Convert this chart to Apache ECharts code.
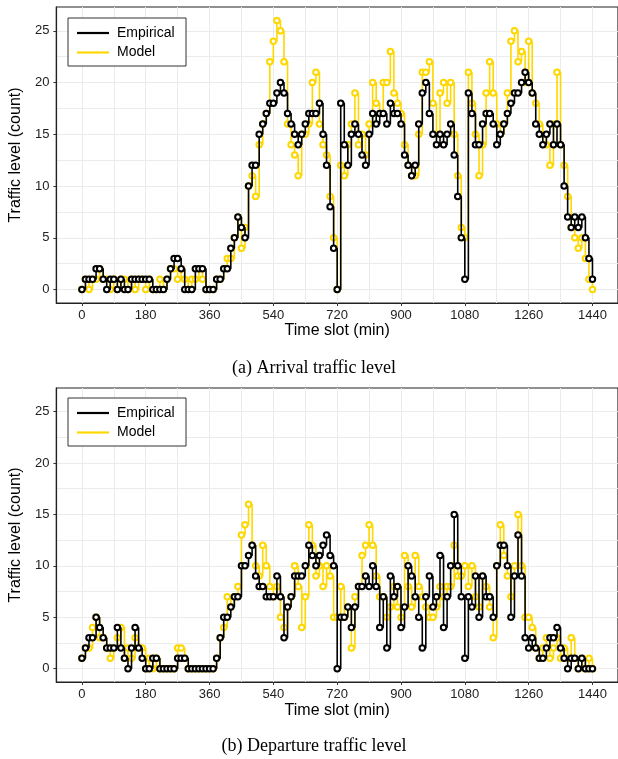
<!DOCTYPE html>
<html>
<head>
<meta charset="utf-8">
<style>
  html, body { margin: 0; padding: 0; background: #fff; }
  #chart { width: 618px; height: 759px; }
</style>
<script src="https://cdn.jsdelivr.net/npm/echarts@6.0.0/dist/echarts.min.js"></script>
</head>
<body>
<div id="chart"></div>
<script>
// Time slots (min)
const timeSlots = [0,10,20,30,40,50,60,70,80,90,100,110,120,130,140,150,160,170,180,190,200,210,220,230,240,250,260,270,280,290,300,310,320,330,340,350,360,370,380,390,400,410,420,430,440,450,460,470,480,490,500,510,520,530,540,550,560,570,580,590,600,610,620,630,640,650,660,670,680,690,700,710,720,730,740,750,760,770,780,790,800,810,820,830,840,850,860,870,880,890,900,910,920,930,940,950,960,970,980,990,1000,1010,1020,1030,1040,1050,1060,1070,1080,1090,1100,1110,1120,1130,1140,1150,1160,1170,1180,1190,1200,1210,1220,1230,1240,1250,1260,1270,1280,1290,1300,1310,1320,1330,1340,1350,1360,1370,1380,1390,1400,1410,1420,1430,1440];

// (a) Arrival traffic level
const arrivalEmpirical = [0,1,1,1,2,2,1,0,1,1,0,1,0,0,1,1,1,1,1,1,0,0,0,0,1,2,3,3,2,0,0,0,2,2,2,0,0,0,1,1,2,2,4,5,7,6,5,10,12,12,15,16,17,18,18,19,20,19,17,16,15,14,15,16,17,17,17,18,15,12,8,4,0,18,14,12,15,16,15,13,12,15,17,16,17,17,16,18,17,17,16,13,12,11,12,16,19,20,17,15,14,15,14,15,16,13,9,5,1,19,17,14,14,16,17,17,16,14,15,16,17,18,19,19,20,21,20,19,16,15,14,15,16,14,16,14,10,7,6,7,6,7,5,3,1];
const arrivalModel = [0,1,0,1,1,2,1,1,0,1,0,1,1,0,1,0,1,1,0,1,0,0,1,0,1,2,2,1,2,1,0,1,1,2,1,0,0,0,1,1,2,3,3,5,7,4,6,10,11,9,14,16,17,22,24,26,25,22,16,14,13,11,15,15,16,20,21,16,14,13,9,5,0,12,11,14,16,19,14,15,13,16,20,18,17,20,20,23,19,18,17,14,12,11,11,15,21,21,22,18,15,19,20,18,20,15,11,6,5,21,18,15,11,14,19,22,19,16,15,16,19,24,25,22,23,20,24,19,18,16,15,14,12,16,21,14,12,9,6,5,4,5,3,1,0];

// (b) Departure traffic level
const departureEmpirical = [1,2,3,3,5,4,3,2,2,2,4,2,1,0,2,4,2,1,0,0,1,1,0,0,0,0,0,1,1,1,0,0,0,0,0,0,0,0,1,3,5,5,6,7,7,10,10,11,12,9,8,8,7,7,7,9,7,3,6,7,9,9,9,10,12,11,10,11,12,13,11,10,0,5,5,6,4,6,8,8,9,8,10,8,4,7,2,9,7,8,4,6,10,9,7,5,2,7,9,6,7,11,4,7,10,15,10,7,1,7,6,9,5,9,7,7,5,10,12,12,10,5,9,13,9,3,2,3,2,1,1,2,3,3,4,2,1,0,1,1,0,1,0,0,0];
const departureModel = [1,2,2,4,5,3,3,2,1,2,3,4,1,2,1,3,2,2,0,1,0,1,0,0,0,0,0,2,2,1,0,0,0,0,0,0,0,0,1,3,4,7,6,7,8,13,14,16,12,10,9,12,10,8,7,8,5,4,6,7,10,8,4,7,14,12,9,10,8,10,9,5,5,8,5,6,2,7,8,11,12,14,12,9,7,7,5,6,8,6,5,11,8,6,11,8,7,6,5,5,6,8,7,8,8,12,9,9,10,8,10,7,6,9,8,6,3,10,14,11,9,7,10,15,10,5,5,4,2,1,2,3,1,2,3,1,2,1,3,1,0,1,0,1,0];

const xTicks = [0,180,360,540,720,900,1080,1260,1440];
const xGridVals = [0,90,180,270,360,450,540,630,720,810,900,990,1080,1170,1260,1350,1440];
const yTicks = [0,5,10,15,20,25];
const yGridVals = [0,2.5,5,7.5,10,12.5,15,17.5,20,22.5,25];
const seriesNames = ['Empirical','Model'];
const captions = ['(a) Arrival traffic level','(b) Departure traffic level'];
const xTitle = 'Time slot (min)';
const yTitle = 'Traffic level (count)';

const SANS = 'Liberation Sans, Arial, Helvetica, sans-serif';
const SERIF = 'Liberation Serif, Times New Roman, serif';
const GOLD = '#FFD700';

function pairs(vals) { return timeSlots.map((t, i) => [t, vals[i]]); }
const plainNum = v => String(v);

const grids = [
  { left: 50, top: 7, width: 571, height: 296 },
  { left: 50, top: 388, width: 571, height: 294 }
];
const nameGaps = [18, 21];

const xAxes = [], yAxes = [], series = [];
grids.forEach((g, gi) => {
  xAxes.push({
    type: 'value', gridIndex: gi, min: -72, max: 1512,
    axisLine: { show: true, onZero: false, lineStyle: { color: '#222', width: 1.2 } },
    axisTick: { show: true, length: 3, customValues: xTicks, lineStyle: { color: '#333', width: 1 } },
    axisLabel: { customValues: xTicks, formatter: plainNum, fontSize: 13, color: '#222', margin: 6, fontFamily: SANS },
    splitLine: { show: false },
    name: xTitle, nameLocation: 'middle', nameGap: nameGaps[gi],
    nameTextStyle: { fontSize: 16, color: '#000', fontFamily: SANS, verticalAlign: 'top' },
    z: 5
  });
  xAxes.push({
    type: 'value', gridIndex: gi, min: -72, max: 1512,
    axisLine: { show: false }, axisTick: { show: false, customValues: xGridVals },
    axisLabel: { show: false, customValues: xGridVals },
    splitLine: { show: true, lineStyle: { color: '#ebebeb', width: 1 } }
  });
  yAxes.push({
    type: 'value', gridIndex: gi, min: -1.3, max: 27.3,
    axisLine: { show: true, onZero: false, lineStyle: { color: '#222', width: 1.2 } },
    axisTick: { show: true, length: 3, customValues: yTicks, lineStyle: { color: '#333', width: 1 } },
    axisLabel: { customValues: yTicks, formatter: plainNum, fontSize: 13, color: '#222', margin: 7, fontFamily: SANS },
    splitLine: { show: false },
    name: yTitle, nameLocation: 'middle', nameGap: 29, nameRotate: 90,
    nameTextStyle: { fontSize: 16, color: '#000', fontFamily: SANS },
    z: 5
  });
  yAxes.push({
    type: 'value', gridIndex: gi, min: -1.3, max: 27.3,
    axisLine: { show: false }, axisTick: { show: false, customValues: yGridVals },
    axisLabel: { show: false, customValues: yGridVals },
    splitLine: { show: true, lineStyle: { color: '#ebebeb', width: 1 } }
  });
});

const panelData = [
  { emp: arrivalEmpirical, mod: arrivalModel },
  { emp: departureEmpirical, mod: departureModel }
];
panelData.forEach((p, gi) => {
  series.push({
    name: seriesNames[1], type: 'line', step: 'end',
    xAxisIndex: gi * 2, yAxisIndex: gi * 2,
    data: pairs(p.mod),
    symbol: 'emptyCircle', symbolSize: 5.5, showAllSymbol: true,
    lineStyle: { color: GOLD, width: 1.6 },
    itemStyle: { color: GOLD, borderColor: GOLD, borderWidth: 1.3 },
    emphasis: { disabled: true }, z: 2
  });
  series.push({
    name: seriesNames[0], type: 'line', step: 'end',
    xAxisIndex: gi * 2, yAxisIndex: gi * 2,
    data: pairs(p.emp),
    symbol: 'emptyCircle', symbolSize: 5.5, showAllSymbol: true,
    lineStyle: { color: '#000', width: 1.6 },
    itemStyle: { color: '#000', borderColor: '#000', borderWidth: 1.3 },
    emphasis: { disabled: true }, z: 3
  });
});

function legendItems(top) {
  return [
    { type: 'rect', z: 200, zlevel: 1, shape: { x: 68, y: top, width: 118, height: 48 },
      style: { fill: '#fff', stroke: '#333', lineWidth: 1 } },
    { type: 'line', z: 201, zlevel: 1, shape: { x1: 77, y1: top + 15, x2: 109, y2: top + 15 },
      style: { stroke: '#000', lineWidth: 2.2 } },
    { type: 'line', z: 201, zlevel: 1, shape: { x1: 77, y1: top + 34.5, x2: 109, y2: top + 34.5 },
      style: { stroke: GOLD, lineWidth: 2.2 } },
    { type: 'text', z: 201, zlevel: 1, x: 117, y: top + 15,
      style: { text: seriesNames[0], font: '14px ' + SANS, fill: '#000', verticalAlign: 'middle' } },
    { type: 'text', z: 201, zlevel: 1, x: 117, y: top + 34.5,
      style: { text: seriesNames[1], font: '14px ' + SANS, fill: '#000', verticalAlign: 'middle' } }
  ];
}

const option = {
  animation: false,
  backgroundColor: '#fff',
  grid: grids.map(g => Object.assign({ show: true, borderColor: '#222', borderWidth: 1.2, backgroundColor: 'transparent', containLabel: false }, g)),
  xAxis: xAxes,
  yAxis: yAxes,
  series: series,
  graphic: legendItems(18).concat(legendItems(398)).concat([
    { type: 'text', x: 314, y: 368, z: 100,
      style: { text: captions[0], font: '18px ' + SERIF, fill: '#000', align: 'center', verticalAlign: 'middle' } },
    { type: 'text', x: 314, y: 746, z: 100,
      style: { text: captions[1], font: '18px ' + SERIF, fill: '#000', align: 'center', verticalAlign: 'middle' } }
  ])
};

const chart = echarts.init(document.getElementById('chart'), null, { renderer: 'canvas' });
chart.setOption(option);
</script>
</body>
</html>
